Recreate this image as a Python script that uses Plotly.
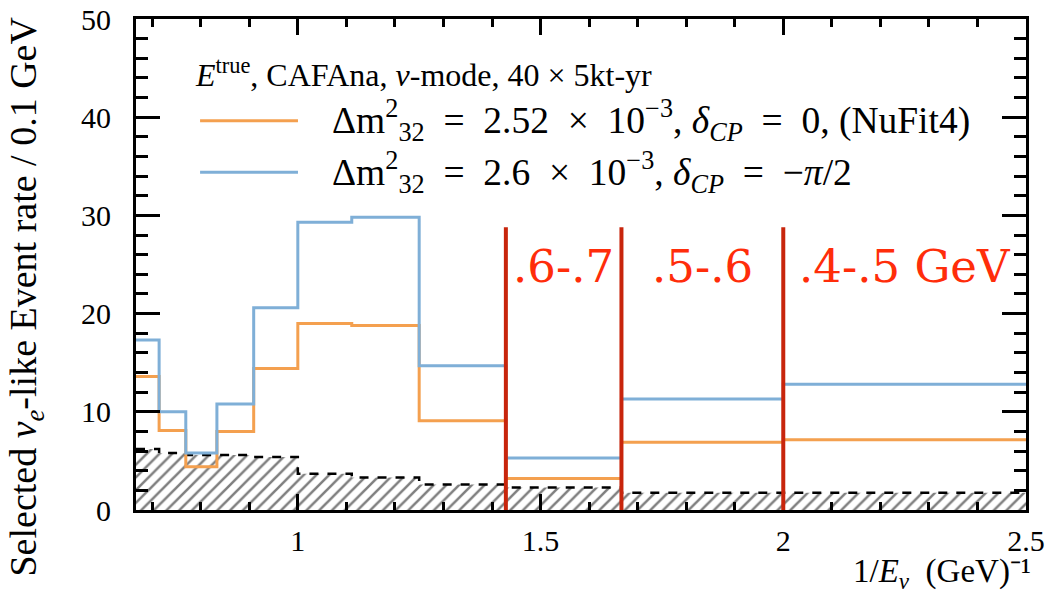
import plotly.graph_objects as go

# Neutrino energy bin edges (GeV), 0.1 GeV wide, plotted as 1/E
energy_edges = [1.5, 1.4, 1.3, 1.2, 1.1, 1.0, 0.9, 0.8, 0.7, 0.6, 0.5, 0.4]

# Selected nu_e-like event rate per bin
rate_nufit = [13.6, 8.1, 4.4, 8.0, 14.4, 19.0, 18.8, 9.1, 3.2, 6.9, 7.15]
rate_alt = [17.3, 10.0, 5.8, 10.8, 20.6, 29.3, 29.8, 14.7, 5.3, 11.3, 12.8]
rate_bkg = [6.2, 5.8, 5.6, 5.6, 5.4, 3.7, 3.3, 2.6, 2.3, 1.75, 1.75]

# Energy windows marked on the plot (GeV)
window_bounds = [0.7, 0.6, 0.5]
window_labels = [".6-.7", ".5-.6", ".4-.5 GeV"]
window_top = 28.8

SP = "\u2002"  # en space for math-style spacing around operators
legend_header = "<i>E</i><sup>true</sup>, CAFAna, <i>ν</i>-mode, 40 × 5kt-yr"
label_nufit = ("Δm<sup>2</sup><sub>32</sub>" + SP + "=" + SP + "2.52" + SP + "×" + SP
               + "10<sup>−3</sup>, <i>δ<sub>CP</sub></i>" + SP + "=" + SP + "0, (NuFit4)")
label_alt = ("Δm<sup>2</sup><sub>32</sub>" + SP + "=" + SP + "2.6" + SP + "×" + SP
             + "10<sup>−3</sup>, <i>δ<sub>CP</sub></i>" + SP + "=" + SP + "−<i>π</i>/2")
x_title = "1/<i>E<sub>ν</sub></i>" + SP + "(GeV)\u207b\u00b9"
y_title = "Selected <i>ν<sub>e</sub></i>-like Event rate / 0.1 GeV"

ORANGE = "#F4A04F"
BLUE = "#7FAFD7"
DARKRED = "#C8250C"
LABELRED = "#FF2D0A"
SERIF = "Liberation Serif"

x_edges = [1.0 / e for e in energy_edges]


def step_y(vals):
    return list(vals) + [vals[-1]]


fig = go.Figure()

# Background: hatched step histogram with dashed outline
fig.add_trace(go.Scatter(
    x=x_edges, y=step_y(rate_bkg), mode="lines", line_shape="hv",
    line=dict(color="black", width=2.5, dash="dash"),
    fill="tozeroy", fillcolor="rgba(0,0,0,0)",
    fillpattern=dict(shape="/", fgcolor="black", bgcolor="white",
                     size=9, solidity=0.28),
    hoverinfo="skip", showlegend=False,
))

fig.add_trace(go.Scatter(
    x=x_edges, y=step_y(rate_nufit), mode="lines", line_shape="hv",
    line=dict(color=ORANGE, width=3), name="NuFit4", showlegend=False,
))
fig.add_trace(go.Scatter(
    x=x_edges, y=step_y(rate_alt), mode="lines", line_shape="hv",
    line=dict(color=BLUE, width=3), name="alt", showlegend=False,
))

# Energy window boundaries and labels
for e in window_bounds:
    fig.add_shape(type="line", x0=1.0 / e, x1=1.0 / e, y0=0, y1=window_top,
                  xref="x", yref="y", line=dict(color=DARKRED, width=4))

window_x = [1.0 / e for e in window_bounds] + [1.0 / energy_edges[-1]]
for i, lab in enumerate(window_labels):
    fig.add_annotation(x=(window_x[i] + window_x[i + 1]) / 2, y=24.8,
                       xref="x", yref="y", text=lab, showarrow=False,
                       font=dict(family="DejaVu Serif", size=45, color=LABELRED))

# Legend block
fig.add_annotation(xref="paper", yref="paper", x=0.064, y=0.89,
                   xanchor="left", yanchor="middle", text=legend_header,
                   showarrow=False, font=dict(family=SERIF, size=32, color="black"))
for yp, col, lab in [(0.793, ORANGE, label_nufit), (0.688, BLUE, label_alt)]:
    fig.add_shape(type="line", xref="paper", yref="paper",
                  x0=0.072, x1=0.182, y0=yp, y1=yp, line=dict(color=col, width=3))
    fig.add_annotation(xref="paper", yref="paper", x=0.218, y=yp,
                       xanchor="left", yanchor="middle", text=lab,
                       showarrow=False, font=dict(family=SERIF, size=37.5, color="black"))

# Axis titles
fig.add_annotation(xref="paper", yref="paper", x=1.008, y=-0.176,
                   xanchor="right", yanchor="bottom", text=x_title,
                   showarrow=False, font=dict(family=SERIF, size=33, color="black"))
fig.add_annotation(xref="paper", yref="paper", x=-0.124, y=0.434,
                   xanchor="center", yanchor="middle", textangle=-90, text=y_title,
                   showarrow=False, font=dict(family=SERIF, size=38, color="black"))

axis_common = dict(
    showline=True, linewidth=3, linecolor="black", mirror="allticks",
    ticks="inside", tickwidth=2.5, tickcolor="black",
    showgrid=False, zeroline=False, automargin=False,
    tickfont=dict(family=SERIF, size=30, color="black"),
)

fig.update_xaxes(range=[1.0 / energy_edges[0], 1.0 / energy_edges[-1]],
                 tickmode="linear", tick0=0, dtick=0.5, ticklen=16,
                 ticklabelstandoff=2,
                 minor=dict(tickmode="linear", tick0=0, dtick=0.1, ticks="inside",
                            ticklen=8, tickwidth=2.5, tickcolor="black"),
                 **axis_common)
fig.update_yaxes(range=[0, 50], tickmode="linear", tick0=0, dtick=10, ticklen=24,
                 ticklabelstandoff=16,
                 minor=dict(tickmode="linear", tick0=0, dtick=2, ticks="inside",
                            ticklen=12, tickwidth=2.5, tickcolor="black"),
                 **axis_common)

fig.update_layout(width=1049, height=593,
                  margin=dict(l=136, r=23, t=19, b=83),
                  plot_bgcolor="white", paper_bgcolor="white",
                  showlegend=False)

fig.write_html("out.html")
